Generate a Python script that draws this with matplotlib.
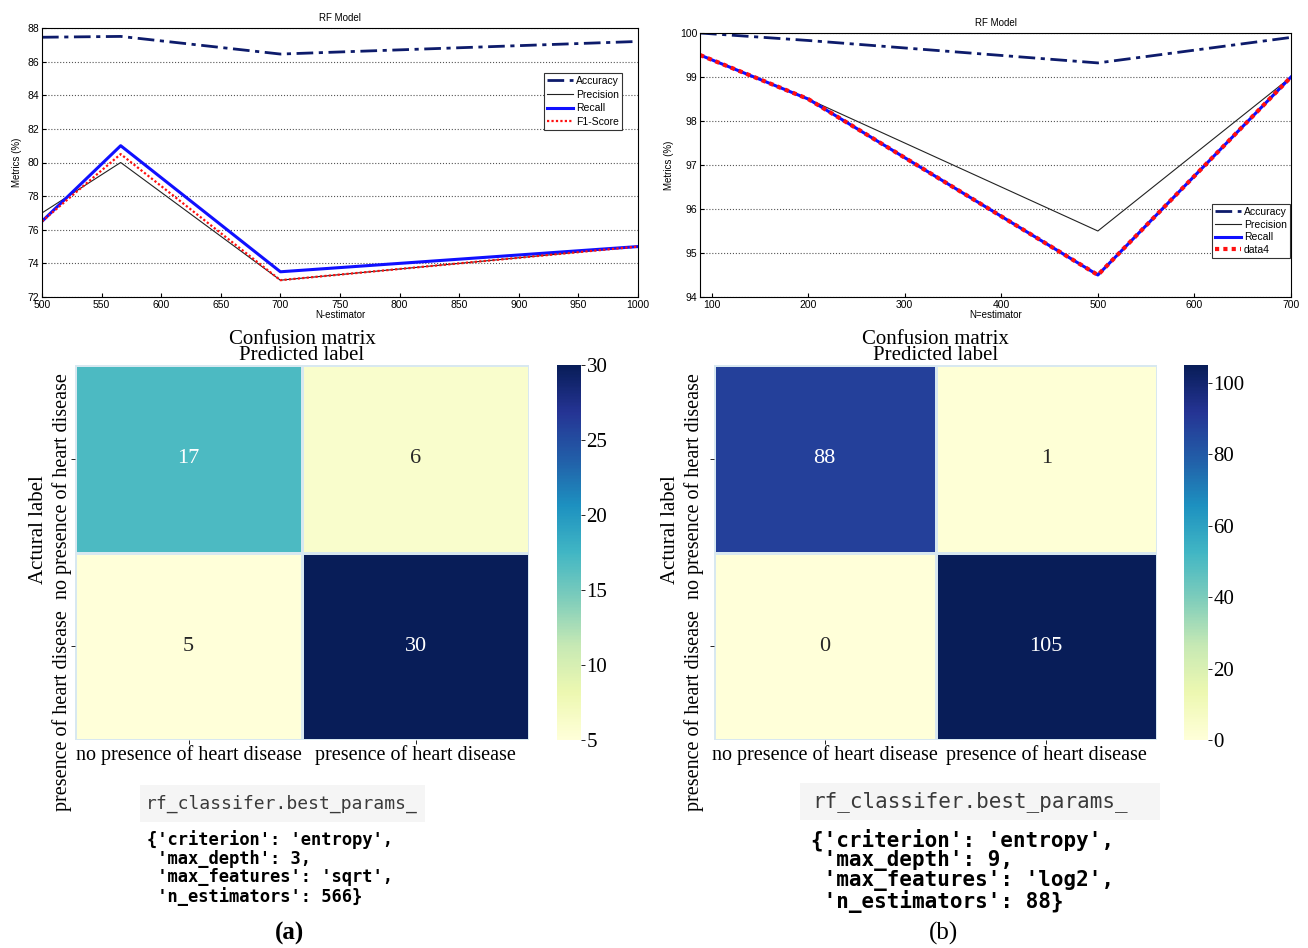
import matplotlib.pyplot as plt
import matplotlib.patches as patches
import matplotlib.transforms as mtransforms
import numpy as np
import seaborn as sns

# ---- data (a) ----
n_est_a = [500, 566, 700, 1000]
acc_a = [87.45, 87.5, 86.45, 87.2]
prec_a = [77.0, 80.0, 73.0, 75.0]
rec_a = [76.5, 81.0, 73.5, 75.0]
f1_a = [76.5, 80.5, 73.0, 75.0]
cm_a = [[17, 6], [5, 30]]
params_a = "{'criterion': 'entropy',\n 'max_depth': 3,\n 'max_features': 'sqrt',\n 'n_estimators': 566}"

# ---- data (b) ----
n_est_b = [88, 200, 500, 700]
acc_b = [100.0, 99.83, 99.32, 99.9]
prec_b = [99.5, 98.5, 95.5, 99.0]
rec_b = [99.5, 98.5, 94.5, 99.0]
data4_b = [99.5, 98.5, 94.5, 99.0]
cm_b = [[88, 1], [0, 105]]
params_b = "{'criterion': 'entropy',\n 'max_depth': 9,\n 'max_features': 'log2',\n 'n_estimators': 88}"

class_labels = ["no presence of heart disease", "presence of heart disease"]

W, H = 1308, 948
fig = plt.figure(figsize=(W / 100, H / 100), dpi=100)
fig.patch.set_facecolor("white")

SANS = ["Liberation Sans", "DejaVu Sans"]
SERIF = ["Liberation Serif", "DejaVu Serif"]
MONO = ["DejaVu Sans Mono"]
NAVY = "#0d1b6b"


def box(x0, y0, x1, y1):
    # pixel box (top-left origin) -> figure fraction rect
    return [x0 / W, 1 - y1 / H, (x1 - x0) / W, (y1 - y0) / H]


def line_panel(rect, x, series, labels, xlim, ylim, yticks, xticks, xlabel,
               legend_loc, anchor, lspace):
    ax = fig.add_axes(rect)
    acc, prec, rec, last = series
    ax.plot(x, acc, color=NAVY, lw=2, ls=(0, (6, 2, 1.5, 2)), label=labels[0])
    ax.plot(x, prec, color="#222222", lw=0.8, label=labels[1])
    ax.plot(x, rec, color="#1010ff", lw=2.2, label=labels[2])
    if labels[3] == "data4":
        ax.plot(x, last, color="#ff1010", lw=3, ls=(0, (1, 1)), label=labels[3])
    else:
        ax.plot(x, last, color="#ff1010", lw=1.6, ls=(0, (1, 1)), label=labels[3])
    ax.set_xlim(*xlim)
    ax.set_ylim(*ylim)
    ax.set_xticks(xticks)
    ax.set_yticks(yticks)
    ax.yaxis.grid(True, ls=":", color="#555555", lw=0.8)
    ax.tick_params(direction="in", length=3, labelsize=7.5, pad=2)
    for lab in ax.get_xticklabels() + ax.get_yticklabels():
        lab.set_family(SANS)
    for s in ax.spines.values():
        s.set_linewidth(0.8)
    ax.set_title("RF Model", fontsize=7, family=SANS, pad=5)
    ax.set_xlabel(xlabel, fontsize=7, family=SANS, labelpad=0)
    ax.set_ylabel("Metrics (%)", fontsize=7, family=SANS, labelpad=4)
    leg = ax.legend(loc=legend_loc, bbox_to_anchor=anchor,
                    prop={"family": SANS, "size": 7.5},
                    handlelength=2.5, handletextpad=0.25, borderpad=0.3,
                    labelspacing=lspace, fancybox=False, framealpha=1,
                    edgecolor="#333333", borderaxespad=0.0)
    leg.get_frame().set_linewidth(0.8)
    return ax


line_panel(box(42, 28, 638, 297), n_est_a, [acc_a, prec_a, rec_a, f1_a],
           ["Accuracy", "Precision", "Recall", "F1-Score"],
           (500, 1000), (72, 88), range(72, 89, 2), range(500, 1001, 50),
           "N-estimator", "upper right", (0.973, 0.833), 0.35)

line_panel(box(700, 33, 1291, 297), n_est_b, [acc_b, prec_b, rec_b, data4_b],
           ["Accuracy", "Precision", "Recall", "data4"],
           (88, 700), (94, 100), range(94, 101), range(100, 701, 100),
           "N=estimator", "lower right", (0.998, 0.148), 0.25)


def heat_panel(rect, crect, cm, vmin, vmax, cticks, ypad, label_x):
    ax = fig.add_axes(rect)
    cax = fig.add_axes(crect)
    sns.heatmap(np.array(cm), annot=True, fmt="d", cmap="YlGnBu", vmin=vmin, vmax=vmax,
                ax=ax, cbar_ax=cax, linewidths=1, linecolor="#d8e8f0",
                annot_kws={"fontsize": 16, "family": SERIF},
                xticklabels=class_labels, yticklabels=class_labels)
    ax.set_title("Confusion matrix\nPredicted label", fontsize=15, family=SERIF,
                 linespacing=0.8, pad=2)
    ax.set_ylabel("Actural label", fontsize=15, family=SERIF)
    ax.yaxis.set_label_coords(label_x, 0.56)
    ax.tick_params(axis="x", labelsize=14.5, length=3, width=0.6, pad=1)
    ax.tick_params(axis="y", labelsize=14.5, length=3, width=0.6, pad=ypad)
    for lab in ax.get_xticklabels():
        lab.set_family(SERIF)
        lab.set_rotation(0)
    ylabs = ax.get_yticklabels()
    for lab in ylabs:
        lab.set_family(SERIF)
        lab.set_rotation(90)
        lab.set_va("center")
    # labels in the source sit lower than the row centres
    ylabs[0].set_transform(ylabs[0].get_transform() +
                           mtransforms.ScaledTranslation(0, -0.27, fig.dpi_scale_trans))
    ylabs[1].set_transform(ylabs[1].get_transform() +
                           mtransforms.ScaledTranslation(0, -0.64, fig.dpi_scale_trans))
    cax.set_yticks(cticks)
    cax.tick_params(labelsize=15, length=3, width=0.6, pad=1)
    for lab in cax.get_yticklabels():
        lab.set_family(SERIF)
    return ax


heat_panel(box(75, 365, 529, 740), box(557, 365, 581, 740), cm_a, 5, 30,
           range(5, 31, 5), -1, -0.06)
heat_panel(box(714, 365, 1157, 740), box(1184, 365, 1208, 740), cm_b, 0, 105,
           range(0, 101, 20), 4, -0.077)


def code_block(x0, x1, y0, y1, head_size, head_x, body, body_x, body_y, body_size, spacing):
    fig.patches.append(patches.Rectangle((x0 / W, 1 - y1 / H), (x1 - x0) / W, (y1 - y0) / H,
                                         transform=fig.transFigure, facecolor="#f5f5f5",
                                         edgecolor="none"))
    fig.text(head_x / W, 1 - (y0 + y1) / 2 / H, "rf_classifer.best_params_",
             fontsize=head_size, family=MONO, color="#3a3a3a", va="center", ha="left")
    fig.text(body_x / W, 1 - body_y / H, body, fontsize=body_size, family=MONO,
             weight="bold", va="top", ha="left", linespacing=spacing)


code_block(140, 425, 785, 822, 13, 146, params_a, 147, 830, 12.3, 1.05)
code_block(800, 1160, 783, 820, 15, 812, params_b, 811, 829, 15, 0.93)

fig.text(290 / W, 1 - 933 / H, "(a)", fontsize=18, family=SERIF, weight="bold",
         ha="center", va="center")
fig.text(943 / W, 1 - 933 / H, "(b)", fontsize=18, family=SERIF,
         ha="center", va="center")

fig.savefig("out.png", dpi=100)
